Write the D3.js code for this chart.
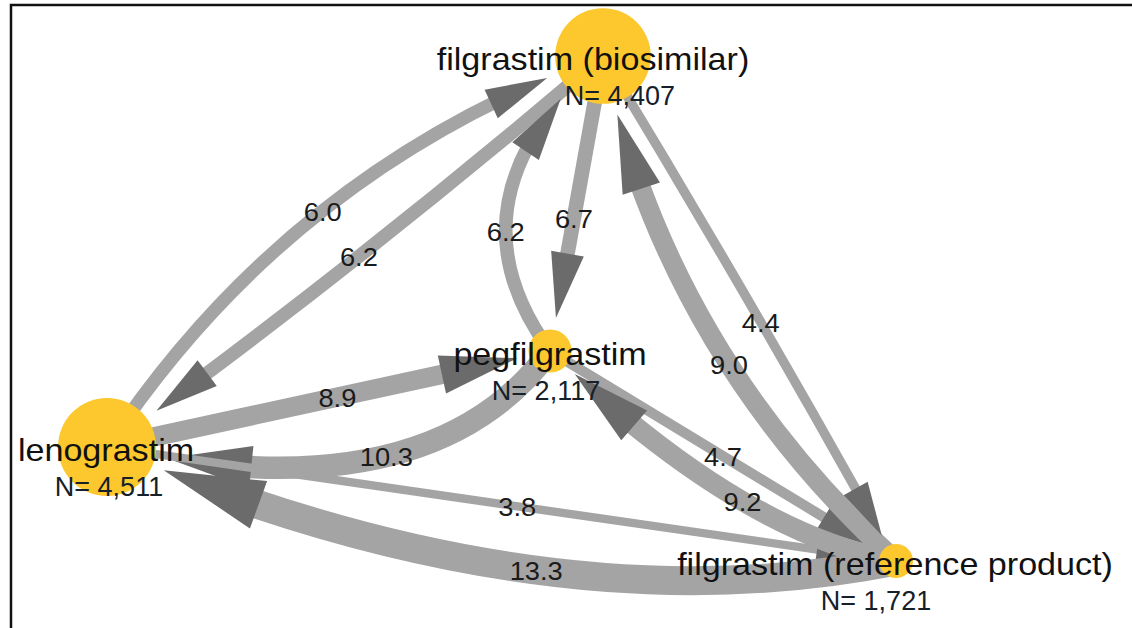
<!DOCTYPE html>
<html>
<head>
<meta charset="utf-8">
<script src="https://cdn.jsdelivr.net/npm/d3@7"></script>
<style>
  html, body { margin: 0; padding: 0; background: #fff; }
  svg { display: block; font-family: "Liberation Sans", Arial, sans-serif; }
</style>
</head>
<body>
<div id="holder"></div>
<script>
// drugs (nodes) and number of patients
const drugNames = ["filgrastim (biosimilar)", "lenograstim", "pegfilgrastim", "filgrastim (reference product)"];
const patientCounts = [4407, 4511, 2117, 1721];

// switches between drugs (index into drugNames), in drawing order
const switchFrom = [2, 2, 1, 1, 0, 2, 0, 3, 0, 1, 3, 3];
const switchTo = [1, 3, 3, 0, 1, 0, 2, 0, 3, 2, 1, 2];
const switchValues = [10.3, 4.7, 3.8, 6.0, 6.2, 6.2, 6.7, 9.0, 4.4, 8.9, 13.3, 9.2];

// layout of the network (unit square), not data
const nodeX = [0.6286, 0, 0.5615, 1];
const nodeY = [0, 0.7743, 0.5842, 1];
const nameDx = [-10, -1, 0, -1];
const countDx = [17, 2, -4, -20];
const edgeBend = [0.3, 0, 0, 0.165, 0.02, 0.45, 0, 0.16, 0.01, 0, 0.152, 0.141];
const edgeShift = [-0.156, 0, 0, 0, 0, -0.07, 0, 0.01, 0, 0, -0.07, -0.138];
const labelT = [0.48, 0.5, 0.52, 0.5, 0.5, 0.4, 0.55, 0.43, 0.53, 0.52, 0.48, 0.47];

const width = 1132;
const height = 628;

const svg = d3.select("#holder")
    .append("svg")
    .attr("width", width)
    .attr("height", height);

const xScale = d3.scaleLinear().domain([0, 1]).range([107, 896]);
const yScale = d3.scaleLinear().domain([0, 1]).range([56, 561]);
const rScale = d3.scaleLinear()
    .domain([d3.min(patientCounts), d3.max(patientCounts)])
    .range([17, 49]);
const maxVal = d3.max(switchValues);
const strokeScale = d3.scaleLinear().domain([0, maxVal]).range([0, 29]);
const headWidth = d3.scaleLinear().domain([0, maxVal]).range([16, 50]);
const headLength = d3.scaleLinear().domain([0, maxVal]).range([30, 100]);

const nodes = drugNames.map((name, i) => ({
    name: name,
    count: patientCounts[i],
    x: xScale(nodeX[i]),
    y: yScale(nodeY[i]),
    r: rScale(patientCounts[i])
}));

function quad(p0, c, p1, t) {
    const u = 1 - t;
    return [u * u * p0[0] + 2 * u * t * c[0] + t * t * p1[0],
            u * u * p0[1] + 2 * u * t * c[1] + t * t * p1[1]];
}

const edges = switchValues.map((value, i) => {
    const s = nodes[switchFrom[i]];
    const t = nodes[switchTo[i]];
    const p0 = [s.x, s.y];
    const p1 = [t.x, t.y];
    const dx = p1[0] - p0[0], dy = p1[1] - p0[1];
    const len = Math.hypot(dx, dy);
    const ux = dx / len, uy = dy / len;
    const nx = uy, ny = -ux;
    const mx = (p0[0] + p1[0]) / 2, my = (p0[1] + p1[1]) / 2;
    const c = [mx + (edgeBend[i] * nx + edgeShift[i] * ux) * len,
               my + (edgeBend[i] * ny + edgeShift[i] * uy) * len];

    // arrow tip sits just outside the target circle
    const tipDist = t.r + 12;
    let tTip = 1;
    for (let k = 1; k >= 0; k -= 0.001) {
        const p = quad(p0, c, p1, k);
        if (Math.hypot(p[0] - p1[0], p[1] - p1[1]) >= tipDist) { tTip = k; break; }
    }
    const tip = quad(p0, c, p1, tTip);
    const hl = headLength(value);
    let tBase = tTip;
    for (let k = tTip; k >= 0; k -= 0.001) {
        const p = quad(p0, c, p1, k);
        if (Math.hypot(p[0] - tip[0], p[1] - tip[1]) >= hl) { tBase = k; break; }
    }
    const base = quad(p0, c, p1, tBase);
    const ax = (tip[0] - base[0]) / hl, ay = (tip[1] - base[1]) / hl;
    const hw = headWidth(value) / 2;
    const head = [tip, [base[0] - ay * hw, base[1] + ax * hw], [base[0] + ay * hw, base[1] - ax * hw]];

    // line runs from source centre to just past the arrow base
    const tEnd = Math.min(tTip, tBase + 0.02);
    const cEnd = [p0[0] + (c[0] - p0[0]) * tEnd, p0[1] + (c[1] - p0[1]) * tEnd];
    const end = quad(p0, c, p1, tEnd);
    const path = d3.path();
    path.moveTo(p0[0], p0[1]);
    path.quadraticCurveTo(cEnd[0], cEnd[1], end[0], end[1]);

    return {
        value: value,
        path: path.toString(),
        head: head,
        label: quad(p0, c, p1, labelT[i])
    };
});

// frame
svg.append("rect")
    .attr("x", 11)
    .attr("y", 5)
    .attr("width", width + 40)
    .attr("height", height + 40)
    .attr("fill", "none")
    .attr("stroke", "#111")
    .attr("stroke-width", 2.5);

const edgeGroups = svg.append("g")
    .selectAll("g")
    .data(edges)
    .enter()
    .append("g");

edgeGroups.append("path")
    .attr("d", (d) => d.path)
    .attr("fill", "none")
    .attr("stroke", "#a4a4a4")
    .attr("stroke-width", (d) => strokeScale(d.value));

edgeGroups.append("path")
    .attr("d", (d) => "M" + d.head.map((p) => p.join(",")).join("L") + "Z")
    .attr("fill", "#6b6b6b");

svg.append("g")
    .selectAll("circle")
    .data(nodes)
    .enter()
    .append("circle")
    .attr("cx", (d) => d.x)
    .attr("cy", (d) => d.y)
    .attr("r", (d) => d.r)
    .attr("fill", "#fcc82e");

svg.append("g")
    .selectAll("text")
    .data(edges)
    .enter()
    .append("text")
    .attr("transform", (d) => `translate(${d.label[0]},${d.label[1] + 10}) scale(1.05,1)`)
    .attr("text-anchor", "middle")
    .style("font-size", "26px")
    .attr("fill", "#1a1a1a")
    .text((d) => d.value.toFixed(1));

svg.append("g")
    .selectAll("text")
    .data(nodes)
    .enter()
    .append("text")
    .attr("transform", (d, i) => `translate(${d.x + nameDx[i]},${d.y + 14}) scale(1.1,1)`)
    .attr("text-anchor", "middle")
    .style("font-size", "31px")
    .attr("fill", "#111")
    .text((d) => d.name);

svg.append("g")
    .selectAll("text")
    .data(nodes)
    .enter()
    .append("text")
    .attr("transform", (d, i) => `translate(${d.x + countDx[i]},${d.y + 49})`)
    .attr("text-anchor", "middle")
    .style("font-size", "27px")
    .attr("fill", "#15202b")
    .text((d) => "N= " + d3.format(",")(d.count));
</script>
</body>
</html>
